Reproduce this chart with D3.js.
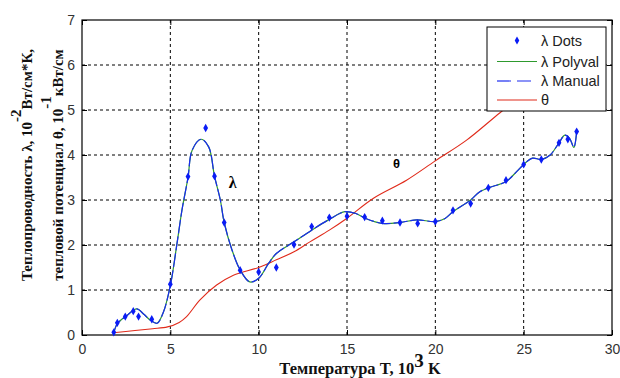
<!DOCTYPE html>
<html>
<head>
<meta charset="utf-8">
<script src="https://cdn.jsdelivr.net/npm/d3@7"></script>
<style>
  body { margin: 0; background: #fff; }
  .tick text { font-family: "Liberation Sans", Arial, sans-serif; font-size: 14px; fill: #333; }
  .axis-title { font-family: "Liberation Serif", "Times New Roman", serif; font-weight: bold; fill: #111; }
  .legend text { font-family: "Liberation Sans", Arial, sans-serif; font-size: 14.5px; fill: #222; }
</style>
</head>
<body>
<svg id="chart"></svg>
<script>
// measured points (lambda)
const tDots = [1.8, 2.0, 2.45, 2.9, 3.2, 3.95, 5.0, 6.0, 7.0, 7.5, 8.05, 8.95, 10, 11, 12, 13, 14, 15, 16, 17, 18, 19, 20, 21, 22, 23, 24, 25, 26, 27, 27.5, 28];
const lamDots = [0.06, 0.27, 0.41, 0.53, 0.41, 0.35, 1.13, 3.52, 4.6, 3.53, 2.5, 1.44, 1.4, 1.5, 2.01, 2.41, 2.61, 2.64, 2.62, 2.54, 2.5, 2.48, 2.52, 2.77, 2.92, 3.27, 3.44, 3.79, 3.9, 4.27, 4.35, 4.52];

// fitted lambda curve (polyval / manual overlap)
const tFit = [1.8, 2.0, 2.5, 3.1, 3.5, 3.9, 4.25, 4.6, 5.0, 5.38, 5.66, 6.0, 6.23, 6.74, 7.17, 7.5, 7.83, 8.05, 8.49, 8.96, 9.5, 10, 10.56, 11, 12, 13, 14, 14.88, 15.5, 16.06, 17, 18, 18.94, 20, 20.55, 21, 22, 22.5, 23, 24, 24.6, 25, 25.5, 26, 26.5, 27, 27.33, 27.6, 27.84, 28];
const lamFit = [0.05, 0.25, 0.42, 0.58, 0.46, 0.32, 0.26, 0.5, 1.1, 2.04, 2.78, 3.5, 4.1, 4.35, 4.18, 3.53, 3.0, 2.5, 1.89, 1.44, 1.18, 1.26, 1.59, 1.81, 2.07, 2.33, 2.57, 2.74, 2.7, 2.59, 2.48, 2.5, 2.56, 2.52, 2.59, 2.74, 3.0, 3.18, 3.27, 3.41, 3.63, 3.79, 3.93, 3.9, 4.0, 4.27, 4.44, 4.37, 4.17, 4.52];

// heat potential theta
const tTheta = [1.77, 3, 4.0, 4.84, 5.5, 5.92, 6.68, 7.62, 8.57, 10, 11, 12, 12.9, 14, 14.98, 16.5, 18.37, 20, 21.77, 23.66, 25, 27];
const theta = [0.05, 0.1, 0.14, 0.18, 0.28, 0.41, 0.78, 1.11, 1.33, 1.5, 1.67, 1.85, 2.07, 2.33, 2.59, 3.04, 3.44, 3.87, 4.33, 4.94, 5.35, 5.95];

const xTicks = [0, 5, 10, 15, 20, 25, 30];
const yTicks = [0, 1, 2, 3, 4, 5, 6, 7];
const legendLabels = ["λ Dots", "λ Polyval", "λ Manual", "θ"];

const W = 620, H = 378;
const margin = { top: 20, right: 8, bottom: 43, left: 82 };
const width = W - margin.left - margin.right;
const height = H - margin.top - margin.bottom;

const svg = d3.select("#chart").attr("width", W).attr("height", H);
const g = svg.append("g").attr("transform", `translate(${margin.left},${margin.top})`);

const x = d3.scaleLinear().domain([0, 30]).range([0, width]);
const y = d3.scaleLinear().domain([0, 7]).range([height, 0]);

// grid
g.append("g").selectAll("line").data(xTicks.slice(1, -1)).join("line")
  .attr("x1", d => x(d)).attr("x2", d => x(d)).attr("y1", 0).attr("y2", height)
  .attr("stroke", "#000").attr("stroke-width", 1).attr("stroke-dasharray", "3,3");
g.append("g").selectAll("line").data(yTicks.slice(1, -1)).join("line")
  .attr("y1", d => y(d)).attr("y2", d => y(d)).attr("x1", 0).attr("x2", width)
  .attr("stroke", "#000").attr("stroke-width", 1).attr("stroke-dasharray", "3,3");

// axes
const xAxis = g.append("g").attr("transform", `translate(0,${height})`)
  .call(d3.axisBottom(x).tickValues(xTicks).tickFormat(d3.format("d")).tickSize(-5).tickPadding(9));
const yAxis = g.append("g")
  .call(d3.axisLeft(y).tickValues(yTicks).tickFormat(d3.format("d")).tickSize(-5).tickPadding(7));
[xAxis, yAxis].forEach(a => { a.select(".domain").remove(); a.selectAll("line").attr("stroke", "#000"); });
g.append("g").call(d3.axisTop(x).tickValues(xTicks).tickSize(-5).tickFormat(""))
  .call(a => a.select(".domain").remove());
g.append("g").attr("transform", `translate(${width},0)`)
  .call(d3.axisRight(y).tickValues(yTicks).tickSize(-5).tickFormat(""))
  .call(a => a.select(".domain").remove());

g.append("rect").attr("width", width).attr("height", height)
  .attr("fill", "none").attr("stroke", "#000").attr("stroke-width", 1.2);

// curves
const line = d3.line().x(d => x(d[0])).y(d => y(d[1])).curve(d3.curveCatmullRom.alpha(0.5));
const fitData = d3.zip(tFit, lamFit);

g.append("path").datum(d3.zip(tTheta, theta)).attr("d", line)
  .attr("fill", "none").attr("stroke", "#e02a1a").attr("stroke-width", 1.1);
g.append("path").datum(fitData).attr("d", line)
  .attr("fill", "none").attr("stroke", "#2e9a2e").attr("stroke-width", 1.2);
g.append("path").datum(fitData).attr("d", line)
  .attr("fill", "none").attr("stroke", "#1a2af0").attr("stroke-width", 1.2)
  .attr("stroke-dasharray", "14,3");

g.append("g").selectAll("path").data(d3.zip(tDots, lamDots)).join("path")
  .attr("transform", d => `translate(${x(d[0])},${y(d[1])})`)
  .attr("d", d3.symbol().type(d3.symbolDiamond).size(20))
  .attr("fill", "#0a1cf5");

// curve labels
g.append("text").attr("x", x(8.3)).attr("y", y(3.27)).text("λ")
  .attr("font-family", "Liberation Serif, serif").attr("font-weight", "bold").attr("font-size", 16);
g.append("text").attr("x", x(17.6)).attr("y", y(3.72)).text("θ")
  .attr("font-family", "Liberation Sans, sans-serif").attr("font-weight", "bold").attr("font-size", 13);

// legend
const lg = svg.append("g").attr("class", "legend");
lg.append("rect").attr("x", 487).attr("y", 27).attr("width", 119).attr("height", 84)
  .attr("fill", "#fff").attr("stroke", "#000").attr("stroke-width", 1);
const rows = [40.5, 61.5, 81, 100];
legendLabels.forEach((lab, i) => {
  const yy = rows[i];
  if (i === 0) {
    lg.append("path").attr("transform", `translate(517,${yy})`)
      .attr("d", d3.symbol().type(d3.symbolDiamond).size(18)).attr("fill", "#0a1cf5");
  } else {
    const col = ["", "#2e9a2e", "#1a2af0", "#e02a1a"][i];
    lg.append("line").attr("x1", 497).attr("x2", 537).attr("y1", yy).attr("y2", yy)
      .attr("stroke", col).attr("stroke-width", 1.2)
      .attr("stroke-dasharray", i === 2 ? "14,6" : null);
  }
  lg.append("text").attr("x", 541).attr("y", yy + 5).text(lab);
});

// x label
const xl = svg.append("text").attr("class", "axis-title").attr("x", 360).attr("y", 374)
  .attr("text-anchor", "middle").attr("font-size", 16.5);
xl.append("tspan").text("Температура T, 10");
xl.append("tspan").attr("dy", -7).attr("font-size", 19).text("3");
xl.append("tspan").attr("dy", 7).text("  K");

// y labels
const yl1 = svg.append("text").attr("class", "axis-title").attr("font-size", 15)
  .attr("transform", "translate(32,165) rotate(-90)").attr("text-anchor", "middle");
yl1.append("tspan").text("Теплопроводность  λ, 10");
yl1.append("tspan").attr("dy", -11).text("-2");
yl1.append("tspan").attr("dy", 11).text("Вт/см*К,");

const yl2 = svg.append("text").attr("class", "axis-title").attr("font-size", 15)
  .attr("transform", "translate(63,165) rotate(-90)").attr("text-anchor", "middle");
yl2.append("tspan").text("тепловой потенциал θ, 10");
yl2.append("tspan").attr("dy", -12).text("-1");
yl2.append("tspan").attr("dy", 12).text("кВт/см");
</script>
</body>
</html>
